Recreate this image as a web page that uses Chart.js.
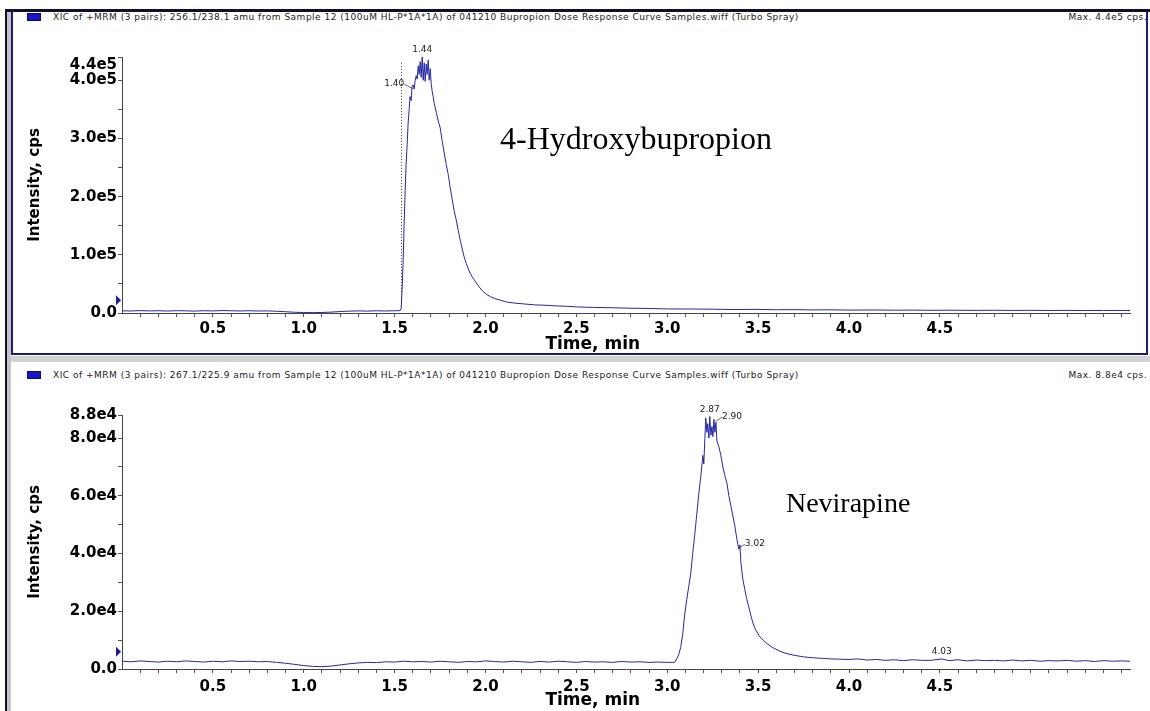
<!DOCTYPE html>
<html>
<head>
<meta charset="utf-8">
<title>XIC chromatograms</title>
<script src="https://cdn.jsdelivr.net/npm/chart.js@4.4.1/dist/chart.umd.min.js"></script>
<style>
  html, body { margin: 0; padding: 0; background: #fff; }
  #page { position: relative; width: 1150px; height: 711px; overflow: hidden; background: #fff; }
  .bar { position: absolute; }
  .hdr { position: absolute; font: 9px "DejaVu Sans", Arial, sans-serif; letter-spacing: 0.5px; color: #222; white-space: nowrap; line-height: 10px; }
  .sq { position: absolute; width: 12px; height: 6px; background: #1616c8; border: 1px solid #0a0a70; }
  canvas { position: absolute; left: 0; }
</style>
</head>
<body>
<div id="page">
  <!-- window frame -->
  <div class="bar" style="left:5px;top:9px;width:1145px;height:3px;background:#101028"></div>
  <div class="bar" style="left:5px;top:9px;width:2px;height:702px;background:#101028"></div>
  <div class="bar" style="left:7px;top:12px;width:4px;height:699px;background:#c4c4c4"></div>
  <div class="bar" style="left:11px;top:11px;width:1137px;height:344px;border:2px solid #1c1c7a;border-top:none;box-sizing:border-box"></div>
  <div class="bar" style="left:11px;top:356px;width:1139px;height:6px;background:#d2d2d2"></div>

  <div class="sq" style="left:27px;top:13px"></div>
  <div class="hdr" style="left:53px;top:12px">XIC of +MRM (3 pairs): 256.1/238.1 amu from Sample 12 (100uM HL-P*1A*1A) of 041210 Bupropion Dose Response Curve Samples.wiff (Turbo Spray)</div>
  <div class="hdr" style="right:3px;top:12px">Max. 4.4e5 cps.</div>

  <div class="sq" style="left:27px;top:371px"></div>
  <div class="hdr" style="left:53px;top:370px">XIC of +MRM (3 pairs): 267.1/225.9 amu from Sample 12 (100uM HL-P*1A*1A) of 041210 Bupropion Dose Response Curve Samples.wiff (Turbo Spray)</div>
  <div class="hdr" style="right:3px;top:370px">Max. 8.8e4 cps.</div>

  <canvas id="topChart" width="1150" height="360" style="top:0"></canvas>
  <canvas id="botChart" width="1150" height="351" style="top:360px"></canvas>
</div>

<script>
// ---------- Data ----------
// 4-Hydroxybupropion trace (time as read on the drawn axis, min; intensity, cps)
const topTime = [
  0.00, 0.05, 0.10, 0.15, 0.20, 0.25, 0.30, 0.35, 0.40, 0.45, 0.50, 0.55, 0.60, 0.65,
  0.70, 0.75, 0.80, 0.85, 0.90, 0.95, 1.00, 1.05, 1.10, 1.15, 1.20, 1.25, 1.30, 1.35,
  1.40, 1.45, 1.50,
  1.530, 1.536, 1.541, 1.547, 1.552, 1.558, 1.563, 1.569, 1.574, 1.580, 1.585, 1.591,
  1.596, 1.602, 1.608, 1.613, 1.619, 1.624, 1.630, 1.635, 1.641, 1.646, 1.652, 1.657,
  1.663, 1.668, 1.674, 1.679, 1.685, 1.690, 1.696, 1.701, 1.707, 1.712, 1.718,
  1.729, 1.740, 1.751, 1.762, 1.773, 1.784, 1.795, 1.806, 1.817, 1.828, 1.839, 1.850,
  1.861, 1.872, 1.883, 1.894, 1.905, 1.916, 1.927, 1.938, 1.960, 1.983, 2.005, 2.027,
  2.049, 2.082, 2.115, 2.159, 2.214, 2.270,
  2.35, 2.40, 2.45, 2.50, 2.55, 2.60, 2.70, 2.80, 2.90, 3.00, 3.15, 3.25, 3.35, 3.50,
  3.60, 3.70, 3.80, 3.90, 4.00, 4.15, 4.25, 4.35, 4.45, 4.55, 4.70, 4.80, 4.90, 5.00,
  5.10, 5.20, 5.30, 5.40, 5.546
];
const topIntensity = [
  3800, 3500, 4100, 3600, 3900, 3400, 4000, 3700, 3300, 3900, 3600, 4200, 3800, 3500,
  3900, 3400, 3600, 3000, 2200, 1300, 800, 700, 900, 1500, 2500, 3200, 3600, 3300,
  3800, 3500, 3900,
  4000, 8000, 40000, 90000, 150000, 210000, 255000, 290000, 325000, 350000, 372000, 365000,
  390000, 392000, 385000, 400000, 408000, 402000, 425000, 410000, 432000, 405000, 440000, 400000,
  430000, 398000, 428000, 410000, 435000, 400000, 420000, 395000, 380000, 372000, 360000,
  345000, 330000, 318000, 295000, 275000, 255000, 238000, 215000, 195000, 175000, 160000, 142000,
  125000, 110000, 96000, 85000, 76000, 68000, 62000, 57000, 47000, 38000, 32000, 28000,
  25000, 22000, 19000, 17000, 15500, 14000,
  13000, 12000, 11500, 10500, 10000, 9500, 9000, 8200, 7800, 7000, 6800, 6500, 6000, 6200,
  5600, 5800, 5300, 5500, 5000, 5200, 4800, 5000, 4600, 4800, 4500, 4700, 4400, 4600,
  4300, 4500, 4200, 4400, 4300
];

// Nevirapine trace
const botTime = [
  0.00, 0.05, 0.10, 0.15, 0.20, 0.25, 0.30, 0.35, 0.40, 0.45, 0.50, 0.55, 0.60, 0.65,
  0.70, 0.75, 0.80, 0.85, 0.90, 0.95, 1.00, 1.05, 1.10, 1.15, 1.20, 1.25, 1.30, 1.35,
  1.40, 1.45, 1.50, 1.55, 1.60, 1.65, 1.70, 1.75, 1.80, 1.85, 1.90, 1.95, 2.00, 2.05,
  2.10, 2.15, 2.20, 2.25, 2.30, 2.35, 2.40, 2.45, 2.50, 2.55, 2.60, 2.65, 2.70, 2.75,
  2.80, 2.85, 2.90, 2.95, 3.00, 3.04,
  3.052, 3.063, 3.074, 3.085, 3.096, 3.107, 3.118, 3.129, 3.140, 3.152, 3.163, 3.174, 3.185, 3.196,
  3.201, 3.207, 3.212, 3.218, 3.223, 3.229, 3.234, 3.240, 3.246, 3.251, 3.257, 3.262, 3.268,
  3.273, 3.284, 3.295, 3.306, 3.317, 3.328, 3.339, 3.350, 3.361, 3.372, 3.383, 3.394, 3.400, 3.405,
  3.416, 3.427, 3.438, 3.449, 3.460, 3.471, 3.483, 3.505, 3.527, 3.549, 3.571, 3.593, 3.626, 3.659,
  3.703, 3.75, 3.80, 3.85, 3.90, 3.95, 4.00, 4.05, 4.10, 4.15, 4.20, 4.25, 4.30, 4.35,
  4.40, 4.45, 4.51, 4.55, 4.60, 4.65, 4.70, 4.75, 4.80, 4.85, 4.90, 4.95, 5.00, 5.05,
  5.10, 5.15, 5.20, 5.25, 5.30, 5.35, 5.40, 5.45, 5.50, 5.546
];
const botIntensity = [
  2700, 2500, 2800, 2600, 2400, 2700, 2500, 2800, 2600, 2400, 2700, 2500, 2800, 2600,
  2700, 2500, 2600, 2300, 2000, 1600, 1200, 900, 800, 1000, 1400, 1800, 2100, 2300,
  2200, 2500, 2400, 2700, 2500, 2600, 2400, 2700, 2500, 2300, 2600, 2500, 2800, 2600,
  2400, 2700, 2500, 2300, 2600, 2400, 2700, 2500, 2300, 2600, 2400, 2500, 2300, 2600,
  2400, 2500, 2300, 2400, 2300, 2300,
  3500, 5000, 7500, 12000, 19000, 24000, 28500, 33000, 40000, 47000, 54000, 61000, 67000, 74000,
  71000, 80000, 87000, 82000, 85000, 80000, 87500, 81000, 84000, 80500, 86500, 82000, 85500,
  79000, 77000, 74000, 70000, 67000, 64500, 60000, 56500, 53000, 49500, 45000, 41500, 43000, 37000,
  31000, 27500, 24000, 21500, 18500, 16000, 14000, 11500, 10000, 8800, 7800, 7000, 6000, 5300,
  4700, 4200, 3900, 3700, 3500, 3400, 3300, 3500, 3100, 3300, 3000, 3200, 2900, 3200,
  3000, 3000, 3500, 2900, 3200, 2800, 3100, 2900, 3000, 2800, 3100, 2800, 3000, 2700,
  2900, 2800, 3000, 2700, 2900, 2600, 2900, 2700, 2800, 2700
];

// axis ticks
const xMajorTicks = [0.5, 1.0, 1.5, 2.0, 2.5, 3.0, 3.5, 4.0, 4.5];
const topYMajor = [0, 100000, 200000, 300000, 400000, 440000];
const topYMinor = [50000, 150000, 250000, 350000];
const botYMajor = [0, 20000, 40000, 60000, 80000, 88000];
const botYMinor = [10000, 30000, 50000, 70000];

// peak annotations (label text, where it sits on the trace)
const topPeakText = ['1.40', '1.44'];
const topPeakTime = [1.608, 1.652];
const topPeakValue = [385000, 440000];
const topPeakSide = ['left', 'above'];
const botPeakText = ['2.87', '2.90', '3.02', '4.03'];
const botPeakTime = [3.234, 3.268, 3.394, 4.51];
const botPeakValue = [87500, 85500, 41500, 3500];
const botPeakSide = ['above', 'right', 'right', 'above'];

// ---------- Helpers ----------
function expLabel(v) {
    if (v === 0) return '0.0';
    const parts = v.toExponential(1).split('e+');
    return parts[0] + 'e' + parts[1];
}

// minor x ticks every 0.1 min
const xAllTicks = [];
for (let i = 1; i <= 55; i++) xAllTicks.push(i / 10);

const TICK_FONT = { family: '"DejaVu Sans", Arial, sans-serif', size: 15, weight: 'bold' };

const notesPlugin = {
    id: 'notes',
    afterDatasetsDraw(chart, args, o) {
        const { ctx } = chart;
        const x = chart.scales.x, y = chart.scales.y;
        ctx.save();

        // integration start marker (dotted)
        if (o.markerTime !== undefined) {
            ctx.strokeStyle = '#333';
            ctx.lineWidth = 1;
            ctx.setLineDash([1, 2]);
            const px = Math.round(x.getPixelForValue(o.markerTime)) + 0.5;
            ctx.beginPath();
            ctx.moveTo(px, y.getPixelForValue(o.markerTop));
            ctx.lineTo(px, y.getPixelForValue(o.markerBottom));
            ctx.stroke();
            ctx.setLineDash([]);
        }

        // peak labels
        ctx.font = '9px "DejaVu Sans", Arial, sans-serif';
        ctx.fillStyle = '#222';
        ctx.strokeStyle = '#444';
        ctx.lineWidth = 0.8;
        o.text.forEach((t, i) => {
            const px = x.getPixelForValue(o.time[i]);
            const py = y.getPixelForValue(o.value[i]);
            const side = o.side[i];
            ctx.textBaseline = 'middle';
            if (side === 'above') {
                ctx.textAlign = 'center';
                ctx.fillText(t, px, py - 7);
            } else if (side === 'left') {
                ctx.textAlign = 'right';
                ctx.fillText(t, px - 10, py - 5);
                ctx.beginPath();
                ctx.moveTo(px - 10, py - 5);
                ctx.lineTo(px - 1, py);
                ctx.stroke();
            } else {
                ctx.textAlign = 'left';
                ctx.fillText(t, px + 6, py - 6);
                ctx.beginPath();
                ctx.moveTo(px, py - 1);
                ctx.lineTo(px + 6, py - 5);
                ctx.stroke();
            }
        });

        // top-of-scale label, sits a little under the axis end
        ctx.font = 'bold 15px "DejaVu Sans", Arial, sans-serif';
        ctx.fillStyle = '#000';
        ctx.textAlign = 'right';
        ctx.textBaseline = 'middle';
        ctx.fillText(expLabel(y.max), x.left - 5, y.top + o.maxDrop);

        // x axis title
        ctx.font = 'bold 17px "DejaVu Sans", Arial, sans-serif';
        ctx.textAlign = 'center';
        ctx.fillText('Time, min', x.getPixelForValue(o.xTitleAt), chart.chartArea.bottom + 32);

        // compound name
        ctx.font = o.nameSize + 'px "Liberation Serif", "Times New Roman", serif';
        ctx.textAlign = 'left';
        ctx.fillText(o.name, x.getPixelForValue(o.nameAt[0]), y.getPixelForValue(o.nameAt[1]));

        // blue threshold arrow on y axis
        const ay = y.getPixelForValue(o.arrowAt);
        const ax = x.left - 1;
        ctx.fillStyle = '#1616b0';
        ctx.beginPath();
        ctx.moveTo(ax - 5, ay - 5);
        ctx.lineTo(ax, ay);
        ctx.lineTo(ax - 5, ay + 5);
        ctx.closePath();
        ctx.fill();

        ctx.restore();
    }
};

function makeChart(canvasId, times, values, yMajor, yMinor, padTop, xHeight, xPad, notes) {
    const ctx = document.getElementById(canvasId).getContext('2d');
    const points = times.map((t, i) => ({ x: t, y: values[i] }));
    const yTicks = yMajor.concat(yMinor).sort((a, b) => a - b);
    const yMax = yMajor[yMajor.length - 1];

    return new Chart(ctx, {
        type: 'line',
        data: {
            datasets: [{
                data: points,
                borderColor: '#2626a4',
                borderWidth: 1,
                pointRadius: 0,
                tension: 0,
                fill: false
            }]
        },
        options: {
            responsive: false,
            animation: false,
            devicePixelRatio: 1,
            layout: { padding: { top: padTop, right: 20, bottom: 0, left: 0 } },
            plugins: {
                legend: { display: false },
                tooltip: { enabled: false },
                notes: notes
            },
            scales: {
                x: {
                    type: 'linear',
                    min: 0,
                    max: 5.546,
                    afterBuildTicks: s => { s.ticks = xAllTicks.map(v => ({ value: v })); },
                    afterFit: s => { s.height = xHeight; },
                    grid: { drawOnChartArea: false, drawTicks: true, tickLength: 4, color: '#555' },
                    border: { display: true, color: '#444', width: 1 },
                    ticks: {
                        autoSkip: false,
                        maxRotation: 0,
                        padding: xPad,
                        color: '#000',
                        font: TICK_FONT,
                        callback: v => xMajorTicks.some(m => Math.abs(m - v) < 1e-6) ? v.toFixed(1) : ''
                    }
                },
                y: {
                    type: 'linear',
                    min: 0,
                    max: yMax,
                    afterBuildTicks: s => { s.ticks = yTicks.map(v => ({ value: v })); },
                    afterFit: s => { s.width = 122; },
                    grid: { drawOnChartArea: false, drawTicks: true, tickLength: 4, color: '#555' },
                    border: { display: true, color: '#444', width: 1 },
                    ticks: {
                        autoSkip: false,
                        padding: 1,
                        color: '#000',
                        font: TICK_FONT,
                        callback: v => (yMajor.includes(v) && v !== yMax) ? expLabel(v) : ''
                    },
                    title: {
                        display: true,
                        text: 'Intensity, cps',
                        color: '#000',
                        font: { family: '"DejaVu Sans", Arial, sans-serif', size: 15, weight: 'bold' },
                        padding: { top: 26, bottom: 0 }
                    }
                }
            }
        },
        plugins: [notesPlugin]
    });
}

// ---------- Charts ----------
makeChart('topChart', topTime, topIntensity, topYMajor, topYMinor, 57, 47, 3, {
    text: topPeakText, time: topPeakTime, value: topPeakValue, side: topPeakSide,
    name: '4-Hydroxybupropion', nameAt: [2.08, 297000], nameSize: 32,
    markerTime: 1.535, markerTop: 430000, markerBottom: 8000,
    arrowAt: 22000, maxDrop: 8, xTitleAt: 2.59
});

makeChart('botChart', botTime, botIntensity, botYMajor, botYMinor, 55, 42, 5, {
    text: botPeakText, time: botPeakTime, value: botPeakValue, side: botPeakSide,
    name: 'Nevirapine', nameAt: [3.653, 56800], nameSize: 28,
    arrowAt: 6000, maxDrop: 0, xTitleAt: 2.59
});
</script>
</body>
</html>
